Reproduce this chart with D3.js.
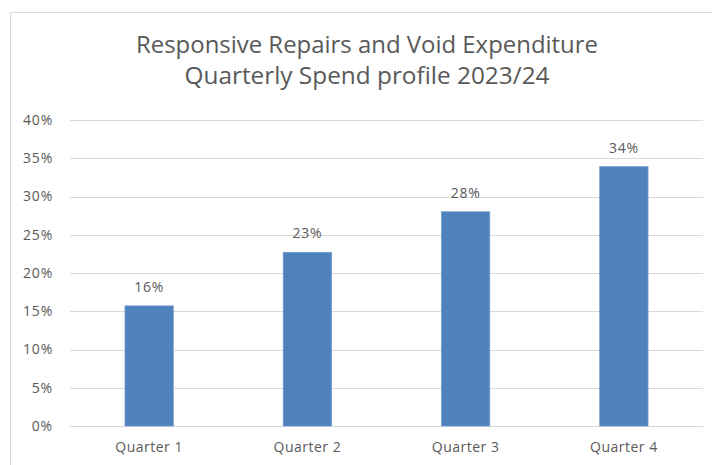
<!DOCTYPE html>
<html>
<head>
<meta charset="utf-8">
<title>Responsive Repairs and Void Expenditure</title>
<style>
  body { margin: 0; background: #fff; }
  svg text { font-family: "Open Sans", "Liberation Sans", sans-serif; fill: #595959; }
</style>
</head>
<body>
<div id="chart"></div>
<script src="https://d3js.org/d3.v7.min.js"></script>
<script>
// data
const quarters = ["Quarter 1", "Quarter 2", "Quarter 3", "Quarter 4"];
const spend = [0.157, 0.227, 0.280, 0.339];
const labels = ["16%", "23%", "28%", "34%"];
const yTicks = [0, 0.05, 0.10, 0.15, 0.20, 0.25, 0.30, 0.35, 0.40];
const titleLines = ["Responsive Repairs and Void Expenditure", "Quarterly Spend profile 2023/24"];

const W = 712, H = 465;
const m = { left: 70, right: 9, top: 120, bottom: 39 };

const svg = d3.select('#chart').append('svg')
  .attr('width', W).attr('height', H);

// chart frame (cut off at right and bottom)
svg.append('rect')
  .attr('x', 10.5).attr('y', 12.5)
  .attr('width', W + 20).attr('height', H + 20)
  .attr('fill', 'none').attr('stroke', '#d9d9d9');

const x = d3.scaleBand().domain(quarters)
  .range([m.left, W - m.right]).paddingInner(0.695).paddingOuter(0.3475);
const y = d3.scaleLinear().domain([0, 0.4]).range([H - m.bottom, m.top]);

// gridlines
svg.append('g').selectAll('line').data(yTicks).enter().append('line')
  .attr('x1', m.left).attr('x2', W - m.right)
  .attr('y1', d => Math.round(y(d)) + 0.5).attr('y2', d => Math.round(y(d)) + 0.5)
  .attr('stroke', '#d9d9d9').attr('stroke-width', 1);

// y axis labels
const yAxis = svg.append('g')
  .attr('transform', `translate(${m.left},0)`)
  .call(d3.axisLeft(y).tickValues(yTicks).tickFormat(d3.format('.0%')).tickSize(0).tickPadding(17));
yAxis.select('.domain').remove();
yAxis.selectAll('text').style('font-size', '14px').style('letter-spacing', '0.8px')
  .attr('fill', '#595959').style('font-family', '"Open Sans", sans-serif');

// x axis labels
const xAxis = svg.append('g')
  .attr('transform', `translate(0,${H - m.bottom})`)
  .call(d3.axisBottom(x).tickSize(0).tickPadding(16));
xAxis.select('.domain').remove();
xAxis.selectAll('text').style('font-size', '14px').style('letter-spacing', '0.5px')
  .attr('fill', '#595959').style('font-family', '"Open Sans", sans-serif');

// bars
svg.append('g').selectAll('rect').data(spend).enter().append('rect')
  .attr('x', (d, i) => x(quarters[i]))
  .attr('y', d => y(d))
  .attr('width', x.bandwidth())
  .attr('height', d => y(0) - y(d))
  .attr('fill', '#4f81bd')
  .attr('stroke', '#6f97cc').attr('stroke-width', 0.8);

// data labels
svg.append('g').selectAll('text').data(spend).enter().append('text')
  .attr('x', (d, i) => x(quarters[i]) + x.bandwidth() / 2)
  .attr('y', d => y(d) - 14)
  .attr('text-anchor', 'middle')
  .style('font-size', '14px').style('letter-spacing', '0.8px')
  .text((d, i) => labels[i]);

// title
svg.append('g').selectAll('text').data(titleLines).enter().append('text')
  .attr('x', 367)
  .attr('y', (d, i) => 53 + i * 31)
  .attr('text-anchor', 'middle')
  .attr('textLength', (d, i) => i === 0 ? 462 : 365)
  .attr('lengthAdjust', 'spacingAndGlyphs')
  .style('font-size', '23px')
  .text(d => d);
</script>
</body>
</html>
